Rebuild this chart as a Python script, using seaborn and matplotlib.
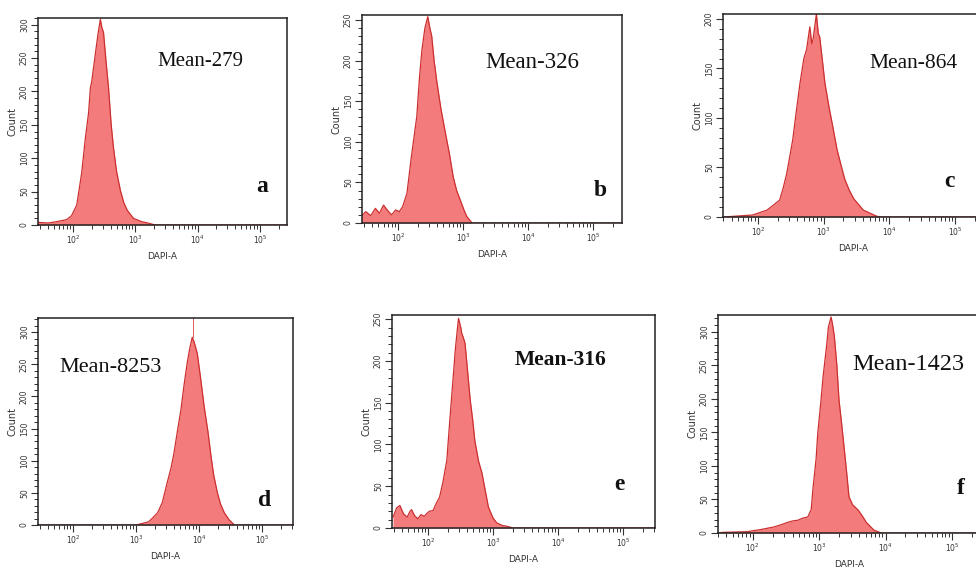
import numpy as np
import pandas as pd
import matplotlib
matplotlib.use('Agg')
import matplotlib.pyplot as plt
import matplotlib.ticker as mticker
import seaborn as sns

# DAPI-A intensity (bin centre) and event count
a_dapi = [27, 40, 55, 79, 95, 115, 138, 158, 178, 190, 200, 224, 251, 275, 290, 309, 339, 372, 410, 447, 500, 575, 650, 741, 933, 1259, 1585, 2089, 270000]
a_count = [4, 3, 5, 8, 14, 30, 78, 130, 168, 205, 215, 250, 285, 308, 296, 288, 245, 205, 150, 115, 80, 52, 34, 22, 10, 5, 3, 0, 0]

b_dapi = [27, 32, 38, 45, 52, 60, 70, 80, 92, 105, 118, 138, 160, 195, 215, 234, 260, 288, 310, 331, 360, 398, 460, 537, 620, 708, 800, 912, 1050, 1148, 1380, 280000]
b_count = [8, 14, 9, 18, 12, 22, 15, 10, 16, 14, 20, 37, 80, 131, 180, 213, 240, 254, 240, 230, 200, 173, 140, 111, 85, 57, 40, 28, 15, 8, 0, 0]

c_dapi = [30, 83, 138, 214, 240, 275, 339, 390, 437, 500, 550, 617, 660, 692, 776, 830, 871, 950, 1047, 1200, 1380, 1600, 1862, 2100, 2455, 2900, 3467, 4000, 5012, 6300, 7079, 270000]
c_count = [0, 2, 7, 17, 28, 44, 78, 110, 135, 160, 169, 192, 175, 180, 205, 185, 182, 160, 135, 112, 91, 68, 51, 38, 27, 18, 12, 7, 4, 1, 0, 0]

d_dapi = [28, 1000, 1585, 2188, 2600, 3090, 3600, 3981, 4500, 5129, 5800, 6457, 7100, 7762, 8300, 9333, 10500, 12023, 13800, 15488, 17000, 19500, 22000, 25119, 30000, 36308, 310000]
d_count = [0, 0, 5, 19, 35, 65, 90, 112, 145, 179, 220, 252, 275, 292, 285, 267, 230, 184, 145, 106, 78, 50, 32, 19, 8, 0, 0]
d_marker = 7900

e_dapi = [29, 33, 37, 42, 48, 53, 56, 62, 70, 78, 88, 95, 105, 120, 135, 151, 170, 195, 215, 234, 250, 263, 285, 295, 320, 331, 350, 372, 410, 447, 490, 525, 600, 676, 760, 851, 1000, 1148, 1400, 1660, 2042, 310000]
e_count = [13, 24, 27, 17, 13, 20, 22, 15, 11, 16, 14, 17, 20, 21, 30, 37, 55, 81, 125, 162, 190, 213, 240, 251, 240, 233, 228, 221, 185, 153, 128, 105, 80, 66, 45, 25, 12, 6, 3, 2, 0, 0]

f_dapi = [30, 36, 83, 130, 209, 280, 339, 400, 479, 560, 676, 760, 813, 900, 955, 1050, 1148, 1300, 1380, 1514, 1600, 1698, 1850, 1995, 2200, 2399, 2600, 2818, 3200, 3890, 4500, 5129, 6000, 6761, 8710, 270000]
f_count = [0, 1, 2, 5, 9, 13, 16, 18, 19, 22, 24, 35, 69, 110, 149, 190, 233, 280, 307, 322, 310, 293, 250, 198, 160, 124, 90, 54, 42, 34, 25, 16, 9, 4, 0, 0]

means = ['Mean-279', 'Mean-326', 'Mean-864', 'Mean-8253', 'Mean-316', 'Mean-1423']
letters = ['a', 'b', 'c', 'd', 'e', 'f']
y_tops = [310, 256, 205, 322, 255, 325]
x_lims = [(27.5, 270000), (28, 280000), (29.5, 265000), (27.5, 310000), (28, 310000), (30, 265000)]

panels = [(a_dapi, a_count), (b_dapi, b_count), (c_dapi, c_count),
          (d_dapi, d_count), (e_dapi, e_count), (f_dapi, f_count)]

sns.set_style('ticks')
plt.rcParams['font.family'] = ['DejaVu Sans']

fig = plt.figure(figsize=(9.76, 5.84), dpi=100)

W, H = 976.0, 584.0
# axes boxes in pixels: left, top, right, bottom
boxes = [(38, 18, 287, 225), (362, 15, 622, 223), (723, 14, 983, 217),
         (38, 318, 293, 525), (392, 315, 655, 528), (718, 315, 980, 533)]
# text centres in pixels
mean_pos = [(200, 62), (532, 62), (914, 63), (111, 368), (561, 360), (908, 365)]
mean_size = [15, 16.5, 15.5, 16, 15.5, 17.5]
mean_bold = [False, False, False, False, True, False]
letter_pos = [(262, 186), (600, 190), (949, 181), (265, 500), (619, 484), (961, 489)]

fill_col = '#f47b7b'
edge_col = '#cc2f2f'

axes = []
for i, (xs, ys) in enumerate(panels):
    l, t, r, b = boxes[i]
    ax = fig.add_axes([l / W, 1 - b / H, (r - l) / W, (b - t) / H])
    axes.append(ax)
    df = pd.DataFrame({'DAPI-A': xs, 'Count': ys})
    sns.lineplot(data=df, x='DAPI-A', y='Count', ax=ax, color=edge_col, lw=0.9)
    ax.fill_between(df['DAPI-A'], df['Count'], color=fill_col, lw=0)
    ax.set_xscale('log')
    ax.set_xlim(*x_lims[i])
    ax.set_ylim(0, y_tops[i])

    ax.xaxis.set_major_locator(mticker.FixedLocator([1e2, 1e3, 1e4, 1e5]))
    ax.xaxis.set_minor_locator(mticker.LogLocator(base=10, subs=np.arange(2, 10)))
    ax.xaxis.set_minor_formatter(mticker.NullFormatter())
    ax.yaxis.set_major_locator(mticker.MultipleLocator(50))
    ax.yaxis.set_minor_locator(mticker.MultipleLocator(10))
    ax.tick_params(axis='both', which='major', direction='out', length=5, width=0.8,
                   labelsize=5.5, pad=1.5, colors='#333333')
    ax.tick_params(axis='both', which='minor', direction='out', length=3, width=0.7, colors='#333333')
    for lab in ax.get_yticklabels():
        lab.set_rotation(90)
        lab.set_va('center')

    ax.set_xlabel('DAPI-A', fontsize=6.5, color='#333333', labelpad=4)
    ax.set_ylabel('Count', fontsize=7, color='#333333', labelpad=2)
    for sp in ax.spines.values():
        sp.set_visible(True)
        sp.set_color('#222222')
        sp.set_linewidth(1.1)

    mx, my = mean_pos[i]
    fig.text(mx / W, 1 - my / H, means[i], family='Liberation Serif', fontsize=mean_size[i],
             fontweight='bold' if mean_bold[i] else 'normal', ha='center', va='center', color='#111111')
    lx, ly = letter_pos[i]
    fig.text(lx / W, 1 - ly / H, letters[i], family='Liberation Serif', fontsize=17,
             fontweight='bold', ha='center', va='center', color='#111111')

# thin gate marker from the peak up to the frame in panel d
axes[3].axvline(d_marker, ymin=max(d_count) / y_tops[3], color='#e05a5a', lw=0.7)

plt.savefig('out.png', dpi=100)
